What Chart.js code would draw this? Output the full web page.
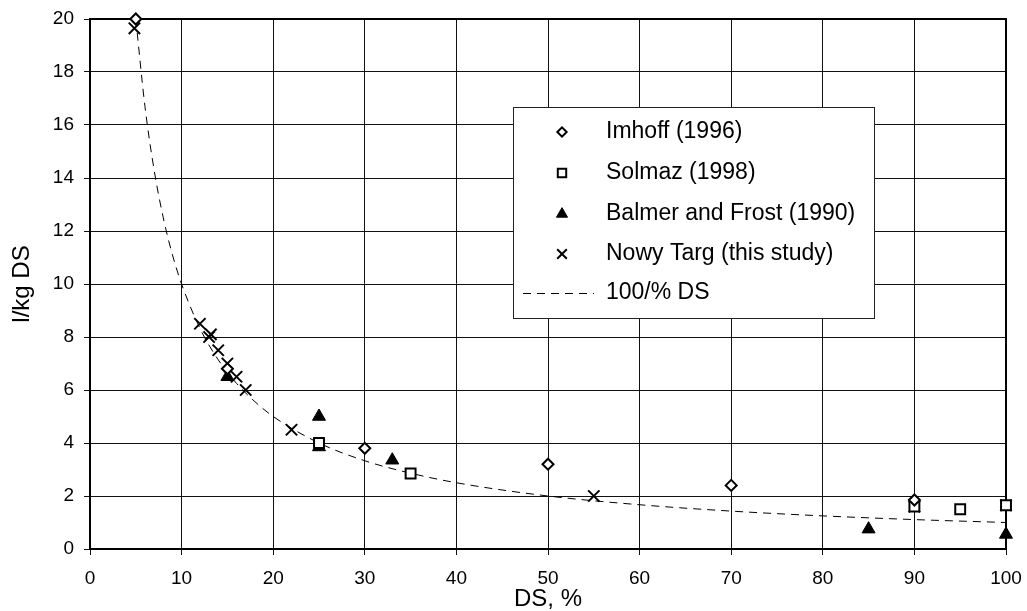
<!DOCTYPE html>
<html>
<head>
<meta charset="utf-8">
<script src="https://cdn.jsdelivr.net/npm/chart.js@4/dist/chart.umd.min.js"></script>
<style>
  html, body { margin: 0; padding: 0; background: #fff; }
  #wrap { width: 1027px; height: 611px; }
</style>
</head>
<body>
<div id="wrap"><canvas id="c" width="1027" height="611"></canvas></div>
<script>
// values
var imhoffX = [5, 15, 30, 50, 70, 90];
var imhoffY = [20, 6.8, 3.8, 3.2, 2.4, 1.85];

var solmazX = [25, 35, 90, 95, 100];
var solmazY = [4.0, 2.85, 1.6, 1.5, 1.65];

var balmerX = [15, 25, 25, 33, 85, 100];
var balmerY = [6.5, 5.0, 3.85, 3.35, 0.75, 0.55];

var nowyX = [4.85, 12, 13, 13.2, 14, 15, 16, 17, 22, 55, 90, 100];
var nowyY = [19.65, 8.5, 8.0, 8.1, 7.5, 7.0, 6.5, 6.0, 4.5, 2.0, 1.6, 1.65];

// dashed reference curve (100/% DS)
var curveX = [5, 6, 7, 8, 9, 10, 12, 14, 16, 18, 20, 25, 30, 35, 40, 50, 60, 70, 80, 90, 100];
var curveY = [20, 16.7, 14.3, 12.5, 11.1, 10, 8.33, 7.14, 6.25, 5.56, 5, 4, 3.33, 2.86, 2.5, 2, 1.67, 1.43, 1.25, 1.11, 1];

var legendLabels = ['Imhoff (1996)', 'Solmaz (1998)', 'Balmer and Frost (1990)', 'Nowy Targ (this study)', '100/% DS'];

function pts(xs, ys) {
  return xs.map(function (x, i) { return { x: x, y: ys[i] }; });
}

var FONT = "'Liberation Sans', Arial, sans-serif";

var marks = [
  { style: 'rectRot', radius: 5.5, fill: '#fff', width: 2 },
  { style: 'rect', radius: 7, fill: '#fff', width: 2 },
  { style: 'triangle', radius: 7.5, fill: '#000', width: 1 },
  { style: 'crossRot', radius: 8, fill: '#000', width: 2 }
];

var boxPlugin = {
  id: 'box',
  beforeDatasetsDraw: function (chart) {
    var a = chart.chartArea, ctx = chart.ctx;
    ctx.save();
    ctx.strokeStyle = '#000';
    ctx.lineWidth = 2;
    ctx.strokeRect(a.left, a.top, a.right - a.left, a.bottom - a.top);
    ctx.restore();
  }
};

var legendPlugin = {
  id: 'legendBox',
  afterDraw: function (chart) {
    var ctx = chart.ctx;
    var L = 513.5, T = 107.5, R = 874.5, B = 318.5;
    ctx.save();
    ctx.fillStyle = '#fff';
    ctx.fillRect(L, T, R - L, B - T);
    ctx.strokeStyle = '#222';
    ctx.lineWidth = 1;
    ctx.strokeRect(L, T, R - L, B - T);
    var rows = [132, 173, 214, 254, 293];
    ctx.font = '23px ' + FONT;
    ctx.fillStyle = '#000';
    ctx.textBaseline = 'middle';
    for (var i = 0; i < legendLabels.length; i++) {
      var y = rows[i];
      if (i < 4) {
        var m = marks[i];
        ctx.fillStyle = m.fill;
        ctx.strokeStyle = '#000';
        ctx.lineWidth = m.width;
        Chart.helpers.drawPoint(ctx, { pointStyle: m.style, radius: m.radius * 0.85, rotation: 0, borderWidth: m.width }, 562, y);
        ctx.fillStyle = '#000';
      } else {
        ctx.strokeStyle = '#000';
        ctx.lineWidth = 1;
        ctx.setLineDash([8, 6]);
        ctx.beginPath();
        ctx.moveTo(523, y + 0.5);
        ctx.lineTo(594, y + 0.5);
        ctx.stroke();
        ctx.setLineDash([]);
      }
      ctx.fillStyle = '#000';
      ctx.fillText(legendLabels[i], 606, y);
    }
    ctx.restore();
  }
};

function markerSet(label, xs, ys, m) {
  return {
    label: label,
    data: pts(xs, ys),
    showLine: false,
    pointStyle: m.style,
    pointRadius: m.radius,
    pointHoverRadius: m.radius,
    pointBackgroundColor: m.fill,
    pointBorderColor: '#000',
    pointBorderWidth: m.width,
    clip: false
  };
}

new Chart(document.getElementById('c'), {
  type: 'scatter',
  data: {
    datasets: [
      {
        label: legendLabels[4],
        data: pts(curveX, curveY),
        showLine: true,
        borderColor: '#000',
        borderWidth: 1,
        borderDash: [8, 6],
        pointRadius: 0,
        cubicInterpolationMode: 'monotone',
        fill: false,
        order: 5
      },
      markerSet(legendLabels[0], imhoffX, imhoffY, marks[0]),
      markerSet(legendLabels[1], solmazX, solmazY, marks[1]),
      markerSet(legendLabels[2], balmerX, balmerY, marks[2]),
      markerSet(legendLabels[3], nowyX, nowyY, marks[3])
    ]
  },
  options: {
    responsive: false,
    animation: false,
    devicePixelRatio: 1,
    layout: { padding: { top: 19, right: 21, left: 0, bottom: 0 } },
    plugins: {
      legend: { display: false },
      tooltip: { enabled: false }
    },
    scales: {
      x: {
        type: 'linear',
        min: 0,
        max: 100,
        afterFit: function (s) { s.height = 62; s.paddingLeft = 0; s.paddingRight = 0; },
        ticks: { stepSize: 10, color: '#000', padding: 12, maxRotation: 0, font: { family: FONT, size: 19 } },
        grid: { color: '#111', lineWidth: 1, tickLength: 6, tickColor: '#111' },
        border: { display: true, color: '#000', width: 2 },
        title: { display: true, text: 'DS, %', color: '#000', font: { family: FONT, size: 24, lineHeight: 1 }, padding: 0 }
      },
      y: {
        type: 'linear',
        min: 0,
        max: 20,
        afterFit: function (s) { s.width = 90; s.paddingTop = 0; s.paddingBottom = 0; },
        ticks: { stepSize: 2, color: '#000', padding: 10, font: { family: FONT, size: 19 } },
        grid: { color: '#111', lineWidth: 1, tickLength: 6, tickColor: '#111' },
        border: { display: true, color: '#000', width: 2 },
        title: { display: true, text: 'l/kg DS', color: '#000', font: { family: FONT, size: 24, lineHeight: 1 }, padding: { top: 10, bottom: 0 } }
      }
    }
  },
  plugins: [boxPlugin, legendPlugin]
});
</script>
</body>
</html>
